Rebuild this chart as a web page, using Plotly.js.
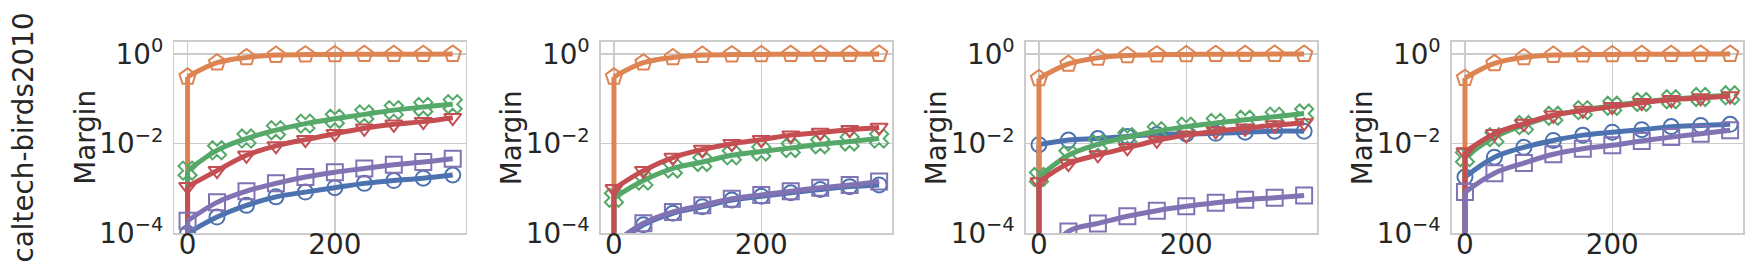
<!DOCTYPE html>
<html><head><meta charset="utf-8">
<script src="https://cdn.plot.ly/plotly-3.0.1.min.js"></script>
<style>html,body{margin:0;padding:0;background:#fff;} #chart{width:1750px;height:274px;}</style>
</head><body><div id="chart"></div>
<script>
// ---- data ----
const STEPS = [0, 40, 80, 120, 160, 200, 240, 280, 320, 360];
const ROW_LABEL = 'caltech-birds2010';
const Y_TITLE = 'Margin';
const X_TICKS = [0, 200];
const Y_TICKS = [1e-4, 1e-2, 1];
const Y_TICK_TEXT = ['10<sup>−4</sup>', '10<sup>−2</sup>', '10<sup>0</sup>'];
const FLOOR_VALUE = 1e-8; // value at the start before the first step (below axis)

// panel 1
const p1_blue   = [0.0001, 0.00023, 0.00042, 0.00065, 0.00083, 0.00104, 0.0013, 0.0015, 0.0017, 0.0020];
const p1_orange = [0.31, 0.64, 0.84, 0.95, 0.97, 0.98, 0.99, 0.99, 0.99, 1.0];
const p1_green  = [0.0025, 0.0071, 0.013, 0.020, 0.028, 0.036, 0.045, 0.056, 0.066, 0.076];
const p1_red    = [0.0011, 0.0025, 0.0055, 0.0089, 0.0123, 0.0167, 0.022, 0.027, 0.031, 0.038];
const p1_purple = [0.00019, 0.00049, 0.00087, 0.0013, 0.0018, 0.0023, 0.0028, 0.0034, 0.0039, 0.0046];
// panel 2
const p2_blue   = [0.00005, 0.000155, 0.00028, 0.00039, 0.00055, 0.00067, 0.0008, 0.00095, 0.0011, 0.0012];
const p2_orange = [0.31, 0.64, 0.84, 0.95, 0.97, 0.98, 0.99, 0.99, 0.99, 1.0];
const p2_green  = [0.00062, 0.0015, 0.0028, 0.0039, 0.0055, 0.0067, 0.0080, 0.0097, 0.0112, 0.013];
const p2_red    = [0.00098, 0.0025, 0.0049, 0.0074, 0.010, 0.0123, 0.0155, 0.0177, 0.0205, 0.023];
const p2_purple = [0.00006, 0.000167, 0.00030, 0.00042, 0.00059, 0.00072, 0.00087, 0.00104, 0.0012, 0.00144];
// panel 3
const p3_blue   = [0.0095, 0.012, 0.013, 0.0145, 0.016, 0.0165, 0.017, 0.018, 0.019, 0.019];
const p3_orange = [0.285, 0.6, 0.82, 0.93, 0.97, 0.98, 0.99, 0.99, 1.0, 1.0];
const p3_green  = [0.0018, 0.0055, 0.0097, 0.014, 0.019, 0.024, 0.029, 0.034, 0.040, 0.047];
const p3_red    = [0.0014, 0.0036, 0.0056, 0.0081, 0.0118, 0.0155, 0.019, 0.022, 0.026, 0.029];
const p3_purple = [0.00002, 0.00011, 0.000166, 0.00024, 0.00032, 0.00040, 0.00048, 0.00056, 0.00062, 0.00070];
// panel 4
const p4_blue   = [0.0018, 0.005, 0.0083, 0.0118, 0.0155, 0.018, 0.0205, 0.024, 0.0255, 0.027];
const p4_orange = [0.29, 0.62, 0.84, 0.95, 0.97, 0.98, 0.99, 0.99, 1.0, 1.0];
const p4_green  = [0.005, 0.014, 0.026, 0.042, 0.056, 0.070, 0.085, 0.098, 0.11, 0.12];
const p4_red    = [0.0065, 0.0167, 0.028, 0.043, 0.055, 0.067, 0.082, 0.095, 0.105, 0.115];
const p4_purple = [0.00083, 0.0022, 0.0037, 0.0058, 0.0077, 0.0092, 0.0115, 0.014, 0.0167, 0.020];

const PANELS = [
  [p1_blue, p1_orange, p1_green, p1_red, p1_purple],
  [p2_blue, p2_orange, p2_green, p2_red, p2_purple],
  [p3_blue, p3_orange, p3_green, p3_red, p3_purple],
  [p4_blue, p4_orange, p4_green, p4_red, p4_purple]
];

// ---- styles ----
const COLORS  = ['#4C72B0', '#DD8452', '#55A868', '#C44E52', '#8172B3'];
const SYMBOLS = ['circle-open', 'pentagon-open', 'x-open', 'triangle-down-open', 'square-open'];
const SIZES   = [15, 17, 16, 15, 16];

const W = 1750, H = 274;
const PANEL_LEFT = [174.3, 600.7, 1025.7, 1451.7];
const PANEL_W = 291.7;
const PLOT_TOP = 41.7, PLOT_BOTTOM = 233.3;
const FONT = 'DejaVu Sans';
const FS = 27.8;
const TXT = '#262626';
const GRID = '#cccccc';

const traces = [];
const layout = {
  width: W, height: H,
  margin: {l: 0, r: 0, t: 0, b: 0},
  paper_bgcolor: '#ffffff', plot_bgcolor: '#ffffff',
  showlegend: false,
  font: {family: FONT, size: FS, color: TXT},
  annotations: []
};

const ydom = [(H - PLOT_BOTTOM) / H, (H - PLOT_TOP) / H];

PANELS.forEach((series, p) => {
  const xa = p === 0 ? 'x' : 'x' + (p + 1);
  const ya = p === 0 ? 'y' : 'y' + (p + 1);
  const xk = p === 0 ? 'xaxis' : 'xaxis' + (p + 1);
  const yk = p === 0 ? 'yaxis' : 'yaxis' + (p + 1);
  layout[xk] = {
    domain: [PANEL_LEFT[p] / W, (PANEL_LEFT[p] + PANEL_W) / W],
    anchor: ya, range: [-18, 378],
    tickvals: X_TICKS, ticks: '', ticklen: 0, ticklabelstandoff: -14,
    showgrid: true, gridcolor: GRID, gridwidth: 1.4, zeroline: false,
    showline: true, mirror: true, linecolor: GRID, linewidth: 1.4,
    tickfont: {family: FONT, size: FS, color: TXT}
  };
  layout[yk] = {
    domain: ydom, anchor: xa, type: 'log', range: [-4, 0.275],
    tickvals: Y_TICKS, ticktext: Y_TICK_TEXT, ticks: '', ticklen: 0, ticklabelstandoff: 4,
    showgrid: true, gridcolor: GRID, gridwidth: 1.4, zeroline: false,
    showline: true, mirror: true, linecolor: GRID, linewidth: 1.4,
    tickfont: {family: FONT, size: FS, color: TXT}
  };
  layout.annotations.push({
    text: Y_TITLE, textangle: -90, xref: 'paper', yref: 'paper',
    x: (PANEL_LEFT[p] - 89) / W, y: (ydom[0] + ydom[1]) / 2,
    xanchor: 'center', yanchor: 'middle', showarrow: false,
    font: {family: FONT, size: FS, color: TXT}
  });
  series.forEach((vals, s) => {
    traces.push({
      x: [STEPS[0], STEPS[0]], y: [FLOOR_VALUE, vals[0]],
      xaxis: xa, yaxis: ya, mode: 'lines', hoverinfo: 'skip',
      line: {color: COLORS[s], width: 5}
    });
    traces.push({
      x: STEPS, y: vals, xaxis: xa, yaxis: ya,
      mode: 'lines+markers',
      line: {color: COLORS[s], width: 5, shape: 'spline', smoothing: 1},
      marker: {symbol: SYMBOLS[s], size: SIZES[s], color: COLORS[s],
               line: {color: COLORS[s], width: 2}}
    });
  });
});

layout.annotations.push({
  text: ROW_LABEL, textangle: -90, xref: 'paper', yref: 'paper',
  x: 23 / W, y: (ydom[0] + ydom[1]) / 2,
  xanchor: 'center', yanchor: 'middle', showarrow: false,
  font: {family: FONT, size: FS, color: TXT}
});

Plotly.newPlot('chart', traces, layout, {staticPlot: true, displayModeBar: false});
</script>
</body></html>
